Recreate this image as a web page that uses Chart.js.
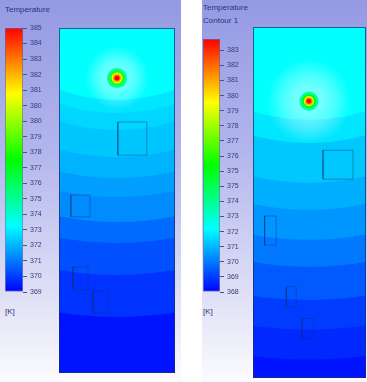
<!DOCTYPE html>
<html>
<head>
<meta charset="utf-8">
<script src="https://cdn.jsdelivr.net/npm/chart.js@4.4.1/dist/chart.umd.min.js"></script>
<style>
html, body { margin: 0; padding: 0; background: #fff; }
#wrap { position: relative; width: 367px; height: 382px; overflow: hidden; font-family: "Liberation Sans", Arial, sans-serif; color: #2c3572; }
.panel { position: absolute; top: 0; height: 382px; background: linear-gradient(#9599e3 0%, #b3b6ec 40%, #e2e3f7 80%, #fbfbff 100%); }
.lbl { position: absolute; font-size: 8px; line-height: 10px; white-space: nowrap; }
canvas { position: absolute; }
</style>
</head>
<body>
<div id="wrap">
  <div class="panel" style="left:0;width:181px"></div>
  <div class="panel" style="left:202px;width:165px"></div>

  <div class="lbl" style="left:5px;top:5px">Temperature</div>
  <div class="lbl" style="left:5px;top:307px">[K]</div>
  <div class="lbl" style="left:203px;top:3px">Temperature</div>
  <div class="lbl" style="left:203px;top:16px">Contour 1</div>
  <div class="lbl" style="left:203px;top:307px">[K]</div>

  <canvas id="leftBar" width="50" height="280" style="left:5px;top:20px"></canvas>
  <canvas id="leftField" width="116" height="345" style="left:59px;top:28px"></canvas>
  <canvas id="rightBar" width="49" height="269" style="left:203px;top:31px"></canvas>
  <canvas id="rightField" width="113" height="351" style="left:253px;top:27px"></canvas>
</div>

<script>
// LEFT CONTOUR (Temperature)
const leftTicks = ['369', '370', '371', '372', '373', '374', '375', '376', '377', '378', '379', '380', '380', '381', '382', '383', '384', '385'];
const leftRange = [369, 385];
// bands round a point above the domain: temp of each band and its outer radius (mm)
const leftBandTemps = [373.0, 372.6, 372.35, 372.1, 371.8, 371.5, 371.2, 370.7, 370.25, 369.8, 369.3];
const leftBandRadii = [57.0, 61.6, 67.5, 76.9, 84.2, 90.8, 99.5, 106.8, 117.9, 132.5];
const leftBandCenter = [20.0, 152];
// heat source
const leftSpot = [20.0, 102.6];
const leftSpotTemps = [374.5, 377.5, 380.5, 382.5, 385];
const leftSpotRadii = [3.5, 2.6, 1.9, 1.4, 0.9];
const leftHalo = 11;
// [x0, y0, x1, y1]
const leftBoxes = [[20.3, 75.8, 30.3, 87.3], [4.1, 54.3, 10.7, 61.9], [4.8, 28.9, 10.0, 36.9], [11.7, 20.9, 16.9, 28.5]];

// RIGHT CONTOUR (Temperature Contour 1)
const rightTicks = ['368', '369', '370', '371', '372', '373', '374', '375', '375', '376', '377', '378', '379', '380', '381', '382', '383'];
const rightRange = [368, 383];
const rightBandTemps = [371.75, 371.38, 370.94, 370.57, 370.2, 369.76, 369.32, 368.88, 368.59, 368.29];
const rightBandRadii = [65.1, 73.3, 87.5, 97.1, 107.8, 117.4, 129.2, 139.8, 150.5];
const rightBandCenter = [19.8, 157];
const rightSpot = [19.8, 98.6];
const rightSpotTemps = [373, 375.5, 378.8, 380.5, 383];
const rightSpotRadii = [3.4, 2.5, 1.8, 1.4, 0.9];
const rightHalo = 15;
const rightBoxes = [[24.8, 70.8, 35.4, 81.1], [4.1, 47.3, 8.2, 57.7], [11.8, 25.2, 15.3, 32.5], [17.3, 14.1, 21.5, 21.2]];


// blue - cyan - green - yellow - red
function rainbow(t) {
    t = Math.max(0, Math.min(1, t));
    let r, g, b;
    if (t < 0.25) { r = 0; g = t / 0.25 * 255; b = 255; }
    else if (t < 0.5) { r = 0; g = 255; b = 255 * (1 - (t - 0.25) / 0.25); }
    else if (t < 0.75) { r = 255 * (t - 0.5) / 0.25; g = 255; b = 0; }
    else { r = 255; g = 255 * (1 - (t - 0.75) / 0.25); b = 0; }
    return 'rgb(' + Math.round(r) + ',' + Math.round(g) + ',' + Math.round(b) + ')';
}

function tempColor(temp, range) {
    return rainbow((temp - range[0]) / (range[1] - range[0]));
}

// fills the contour bands, the heat source and the domain outline
const fieldPlugin = {
    id: 'field',
    beforeDatasetsDraw(chart, args, f) {
        const ctx = chart.ctx;
        const a = chart.chartArea;
        const x = chart.scales.x, y = chart.scales.y;

        const ellipse = (c, r, color) => {
            const px = x.getPixelForValue(c[0]);
            const py = y.getPixelForValue(c[1]);
            const rx = x.getPixelForValue(c[0] + r) - px;
            const ry = py - y.getPixelForValue(c[1] + r);
            ctx.beginPath();
            ctx.ellipse(px, py, rx, ry, 0, 0, Math.PI * 2);
            ctx.fillStyle = color;
            ctx.fill();
        };

        ctx.save();
        ctx.beginPath();
        ctx.rect(a.left, a.top, a.width, a.height);
        ctx.clip();

        ctx.fillStyle = tempColor(f.bandTemps[f.bandTemps.length - 1], f.range);
        ctx.fillRect(a.left, a.top, a.width, a.height);
        for (let i = f.bandRadii.length - 1; i >= 0; i--) {
            ellipse(f.bandCenter, f.bandRadii[i], tempColor(f.bandTemps[i], f.range));
        }

        // pale glow round the source
        const sx = x.getPixelForValue(f.spot[0]);
        const sy = y.getPixelForValue(f.spot[1]);
        const hr = x.getPixelForValue(f.spot[0] + f.halo) - sx;
        const g = ctx.createRadialGradient(sx, sy, 0, sx, sy, hr);
        g.addColorStop(0, 'rgba(255,255,255,0.6)');
        g.addColorStop(0.6, 'rgba(255,255,255,0.3)');
        g.addColorStop(1, 'rgba(255,255,255,0)');
        ctx.fillStyle = g;
        ctx.fillRect(sx - hr, sy - hr, hr * 2, hr * 2);

        f.spotRadii.forEach((r, i) => ellipse(f.spot, r, tempColor(f.spotTemps[i], f.range)));

        ctx.restore();
    },
    afterDraw(chart) {
        const ctx = chart.ctx;
        const a = chart.chartArea;
        ctx.save();
        ctx.strokeStyle = 'rgba(30,45,110,0.75)';
        ctx.lineWidth = 1;
        ctx.strokeRect(a.left + 0.5, a.top + 0.5, a.width - 1, a.height - 1);
        ctx.restore();
    }
};

function boxPoints(b) {
    return [{x: b[0], y: b[1]}, {x: b[2], y: b[1]}, {x: b[2], y: b[3]}, {x: b[0], y: b[3]}, {x: b[0], y: b[1]}];
}

function fieldChart(id, xMax, yMax, boxes, field) {
    new Chart(document.getElementById(id), {
        type: 'scatter',
        data: {
            datasets: boxes.map(b => ({
                data: boxPoints(b),
                showLine: true,
                fill: false,
                pointRadius: 0,
                borderWidth: 1,
                borderColor: 'rgba(25,45,110,0.42)'
            }))
        },
        options: {
            responsive: false,
            animation: false,
            layout: { padding: 0 },
            plugins: {
                legend: { display: false },
                tooltip: { enabled: false },
                field: field
            },
            scales: {
                x: { type: 'linear', min: 0, max: xMax, display: false },
                y: { type: 'linear', min: 0, max: yMax, display: false }
            }
        },
        plugins: [fieldPlugin]
    });
}

function colorBar(id, ticks, top) {
    new Chart(document.getElementById(id), {
        type: 'bar',
        data: {
            labels: [''],
            datasets: [{
                data: [[0, top]],
                barPercentage: 1,
                categoryPercentage: 1,
                borderWidth: 1,
                borderSkipped: false,
                borderColor: 'rgba(40,40,100,0.5)',
                backgroundColor: function(context) {
                    const chart = context.chart;
                    if (!chart.chartArea) return 'blue';
                    const y = chart.scales.y;
                    const g = chart.ctx.createLinearGradient(0, y.getPixelForValue(0), 0, y.getPixelForValue(top));
                    [0, 0.25, 0.5, 0.75, 1].forEach(t => g.addColorStop(t, rainbow(t)));
                    return g;
                }
            }]
        },
        options: {
            responsive: false,
            animation: false,
            layout: { padding: { top: 8, bottom: 8, left: 0, right: 0 } },
            plugins: { legend: { display: false }, tooltip: { enabled: false } },
            scales: {
                x: { display: false },
                y: {
                    position: 'right',
                    min: 0,
                    max: top,
                    afterFit: function(scale) { scale.width = 32; },
                    afterBuildTicks: function(scale) { scale.ticks = ticks.map((t, i) => ({ value: i })); },
                    ticks: {
                        autoSkip: false,
                        padding: 3,
                        color: '#343d78',
                        font: { size: 7, family: 'Liberation Sans' },
                        callback: function(value) { return ticks[value]; }
                    },
                    grid: { drawOnChartArea: false, tickLength: 4, color: '#4a5090' },
                    border: { display: false }
                }
            }
        }
    });
}

colorBar('leftBar', leftTicks, 17);
colorBar('rightBar', rightTicks, 16.75);

fieldChart('leftField', 40, 120, leftBoxes, {
    range: leftRange, bandTemps: leftBandTemps, bandRadii: leftBandRadii, bandCenter: leftBandCenter,
    spot: leftSpot, spotTemps: leftSpotTemps, spotRadii: leftSpotRadii, halo: leftHalo
});
fieldChart('rightField', 40, 125, rightBoxes, {
    range: rightRange, bandTemps: rightBandTemps, bandRadii: rightBandRadii, bandCenter: rightBandCenter,
    spot: rightSpot, spotTemps: rightSpotTemps, spotRadii: rightSpotRadii, halo: rightHalo
});
</script>
</body>
</html>
